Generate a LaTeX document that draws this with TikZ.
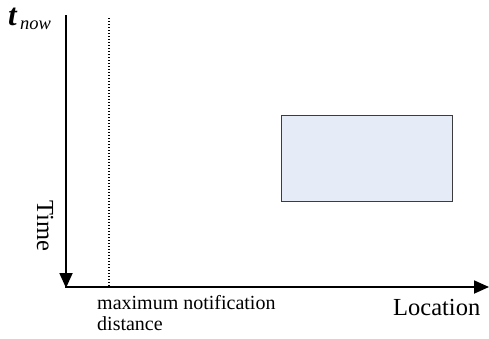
\documentclass[tikz,border=0pt]{standalone}
\usepackage{fontspec}
\setmainfont{Liberation Serif}
\usetikzlibrary{arrows.meta}
\definecolor{boxfill}{RGB}{230,236,247}
\definecolor{boxedge}{RGB}{60,60,60}
\tikzset{
  axisline/.style={line width=1.8pt, -{Triangle[length=15pt,width=13pt]}},
  limitline/.style={line width=1.3pt, dash pattern=on 1.3pt off 1.7pt},
  regionbox/.style={draw=boxedge, line width=1pt, fill=boxfill, minimum width=171pt, minimum height=86pt, inner sep=0pt, anchor=north west},
  biglabel/.style={font=\fontsize{24.5}{28}\selectfont, inner sep=0pt},
  smalllabel/.style={font=\fontsize{20}{22}\selectfont, inner sep=0pt, anchor=base west}
}
\begin{document}
\begin{tikzpicture}[x=1pt,y=-1pt]
  \useasboundingbox (0,0) rectangle (489,338);
  % axes: time runs downward, location to the right
  \coordinate (origin) at (66,287);
  \coordinate (timetop) at (66,15);
  \coordinate (locend) at (489,287);
  \draw[axisline] (timetop) -- ([yshift=-1pt]origin);
  \draw[axisline] ([xshift=-0.9pt]origin) -- (locend);
  % notification distance limit
  \coordinate (limtop) at (109,18);
  \coordinate (limbot) at (109,287);
  \draw[limitline] (limtop) -- (limbot);
  % region
  \node[regionbox] (region) at (281,115) {};
  % labels
  \node[anchor=base west, inner sep=0pt] (tnow) at (8,25)
    {\fontsize{31}{34}\selectfont\textbf{\textit{t}}\kern2.5pt\raisebox{-4pt}{\fontsize{18.5}{20}\selectfont\textit{now}}};
  \node[biglabel, anchor=base west, rotate=-90] (timelabel) at (37,200) {Time};
  \node[biglabel, anchor=base west] (loclabel) at (393,315) {Location};
  \node[smalllabel] (mnd1) at (97,309) {maximum notification};
  \node[smalllabel] (mnd2) at (97,330.5) {distance};
\end{tikzpicture}
\end{document}
